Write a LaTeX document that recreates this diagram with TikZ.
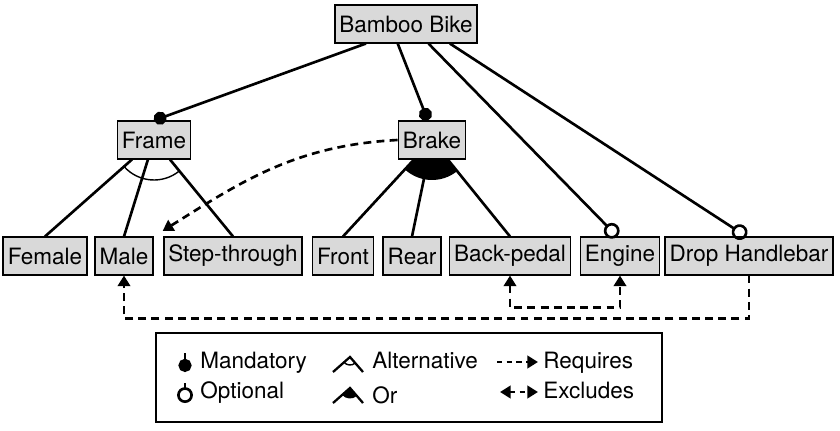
\documentclass[tikz,border=0pt]{standalone}
\usepackage{fontspec}
\setmainfont{TeX Gyre Heros}
\usetikzlibrary{arrows.meta,backgrounds}

\begin{document}
\begin{tikzpicture}[
        font=\fontsize{12.8}{15}\selectfont,
        feature/.style={rectangle, draw=black, line width=0.9pt, fill=black!15, inner xsep=2.6pt, minimum height=0.75cm},
        tree/.style={line width=1.5pt},
        mand/.style={tree, -{Circle[length=7.5pt]}},
        opt/.style={tree, -{Circle[open, length=9pt]}},
        req/.style={line width=1.5pt, dash pattern=on 4.5pt off 3pt, -{Triangle[length=6pt, width=7pt]}},
        excl/.style={req, {Triangle[length=6pt, width=7pt]}-{Triangle[length=6pt, width=7pt]}},
        key/.style={anchor=base west, inner sep=0pt}]
        \useasboundingbox (0,0) rectangle (16.8,-8.6);

        \begin{scope}[every node/.style={feature}]
            \node (bike) at (8.12, -0.48) {Bamboo Bike};
            \node (frame) at (3.08, -2.8) {Frame};
            \node (brake) at (8.64, -2.8) {Brake};
            \node (female) at (0.9, -5.12) {Female};
            \node (male) at (2.48, -5.12) {Male};
            \node (step) at (4.66, -5.12) {Step-through};
            \node (front) at (6.86, -5.12) {Front};
            \node (rear) at (8.24, -5.12) {Rear};
            \node (back) at (10.2, -5.12) {Back-pedal};
            \node (engine) at (12.4, -5.12) {Engine};
            \node (drop) at (14.98, -5.12) {Drop Handlebar};
        \end{scope}

        % bike to its features
        \path (bike.206) edge[mand] (frame.north);
        \path (bike.247) edge[mand] (brake.102);
        \path (bike.319) edge[opt] (engine.98);
        \path (bike.336) edge[opt] (drop.98);

        % alternative group
        \path (frame) edge[tree] (female.north);
        \path (frame) edge[tree] (male.north);
        \path (frame) edge[tree] (step.north);
        \draw[line width=0.8pt] (frame.center) ++(221.7:0.8) arc[start angle=221.7, end angle=309.2, radius=0.8];

        % or group
        \path (brake) edge[tree] (front.north);
        \path (brake) edge[tree] (rear.north);
        \path (brake) edge[tree] (back.north);
        \begin{scope}[on background layer]
            \fill (brake.center) -- ++(227.5:0.8) arc[start angle=227.5, end angle=308.8, radius=0.8] -- cycle;
        \end{scope}

        % constraints
        \draw[req, shorten >=6pt] (brake.west) to[out=183, in=32] (male.north east);
        \draw[req] (drop.south) -- ++(0,-0.86) -| (male.south);
        \draw[excl] (back.south) -- ++(0,-0.64) -| (engine.south);

        % legend
        \draw[line width=0.9pt] (3.12,-6.66) rectangle (13.24,-8.44);
        \draw[mand] (3.7,-7.06) -- (3.7,-7.44);
        \draw[opt] (3.7,-7.66) -- (3.7,-8.06);
        \node[key] (kmand) at (4.0,-7.36) {Mandatory};
        \node[key] (kopt) at (4.0,-7.96) {Optional};
        \draw[line width=1.3pt] (6.66,-7.44) -- (7.0,-7.14) -- (7.26,-7.44);
        \draw[line width=0.8pt] (7.0,-7.14) ++(221.4:0.16) arc[start angle=221.4, end angle=311, radius=0.16];
        \draw[line width=1.3pt] (6.66,-8.06) -- (7.0,-7.76) -- (7.26,-8.06);
        \fill (7.0,-7.76) -- ++(221.4:0.21) arc[start angle=221.4, end angle=311, radius=0.21] -- cycle;
        \node[key] (kalt) at (7.44,-7.36) {Alternative};
        \node[key] (kor) at (7.44,-8.06) {Or};
        \draw[req, dash pattern=on 3pt off 2.5pt] (9.94,-7.24) -- (10.76,-7.24);
        \draw[excl, dash pattern=on 3pt off 2.5pt] (10.0,-7.84) -- (10.76,-7.84);
        \node[key] (kreq) at (10.86,-7.36) {Requires};
        \node[key] (kexcl) at (10.86,-7.96) {Excludes};
    \end{tikzpicture}
\end{document}
